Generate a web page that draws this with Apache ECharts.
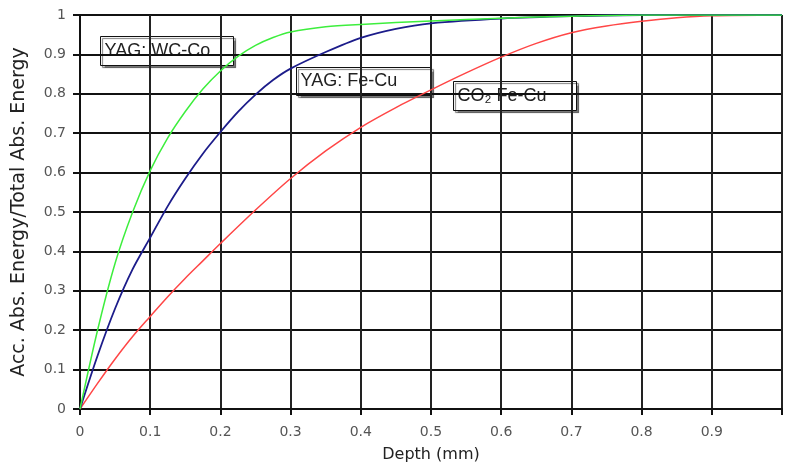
<!DOCTYPE html>
<html>
<head>
<meta charset="utf-8">
<script src="https://cdn.jsdelivr.net/npm/echarts@6/dist/echarts.min.js"></script>
<style>html,body{margin:0;padding:0;background:#fff}#c{width:785px;height:468px}</style>
</head>
<body>
<div id="c"></div>
<script>
// Depth (mm) / accumulated absorbed energy fraction
var yagWcCoDepth  = [0, 0.025, 0.05, 0.075, 0.1, 0.125, 0.15, 0.175, 0.2, 0.225, 0.25, 0.275, 0.3, 0.35, 0.4, 0.5, 0.6, 0.7, 0.8, 0.9, 1.0];
var yagWcCoValue  = [0, 0.2, 0.37, 0.5, 0.605, 0.688, 0.755, 0.812, 0.858, 0.895, 0.923, 0.943, 0.957, 0.97, 0.976, 0.985, 0.992, 0.997, 1.0, 1.0, 1.0];
var yagFeCuDepth  = [0, 0.025, 0.05, 0.075, 0.1, 0.125, 0.15, 0.175, 0.2, 0.225, 0.25, 0.275, 0.3, 0.35, 0.4, 0.45, 0.5, 0.6, 0.7, 0.8, 0.9, 1.0];
var yagFeCuValue  = [0, 0.135, 0.255, 0.355, 0.435, 0.515, 0.585, 0.648, 0.703, 0.754, 0.798, 0.835, 0.864, 0.906, 0.942, 0.965, 0.979, 0.991, 0.997, 1.0, 1.0, 1.0];
var co2FeCuDepth  = [0, 0.025, 0.05, 0.075, 0.1, 0.125, 0.15, 0.175, 0.2, 0.25, 0.3, 0.35, 0.4, 0.45, 0.5, 0.55, 0.6, 0.65, 0.7, 0.75, 0.8, 0.85, 0.9, 1.0];
var co2FeCuValue  = [0, 0.065, 0.127, 0.184, 0.235, 0.285, 0.332, 0.376, 0.42, 0.505, 0.585, 0.655, 0.715, 0.765, 0.81, 0.853, 0.893, 0.928, 0.955, 0.972, 0.984, 0.993, 0.998, 1.0];
var seriesNames = ['YAG: WC-Co', 'YAG: Fe-Cu', 'CO\u2082 Fe-Cu'];
var xAxisTitle = 'Depth (mm)';
var yAxisTitle = 'Acc. Abs. Energy/Total Abs. Energy';

function pairs(xs, ys) { return xs.map(function (x, i) { return [x, ys[i]]; }); }

var chart = echarts.init(document.getElementById('c'), null, {renderer: 'canvas'});
var boxFont = 'Arial, "Liberation Sans", sans-serif';
var axisFont = '"DejaVu Sans", Arial, sans-serif';

function box(x, y, w, h, text) {
  return {
    type: 'group', left: x, top: y, z: 100,
    children: [
      {type: 'rect', shape: {x: 0, y: 0, width: w, height: h},
       style: {fill: '#fff', stroke: '#111', lineWidth: 1, shadowColor: 'rgba(90,90,90,0.8)', shadowOffsetX: 2, shadowOffsetY: 2, shadowBlur: 1}},
      {type: 'text', x: 4, y: h / 2,
       style: {text: text, fill: '#222', font: '18px ' + boxFont, verticalAlign: 'middle', align: 'left'}}
    ]
  };
}

chart.setOption({
  animation: false,
  backgroundColor: '#fff',
  grid: {left: 80, width: 713, top: 15, bottom: 55, containLabel: false},
  xAxis: {
    type: 'value', min: 0, max: 1, interval: 0.1,
    name: xAxisTitle, nameLocation: 'middle', nameGap: 38,
    nameTextStyle: {color: '#222', fontSize: 16, fontFamily: axisFont},
    axisLine: {show: true, lineStyle: {color: '#111', width: 2}},
    axisTick: {show: true, length: 6, lineStyle: {color: '#111', width: 2}},
    axisLabel: {color: '#555', fontSize: 14, fontFamily: axisFont, margin: 16,
      formatter: function (v) { return v >= 1 ? '' : String(Math.round(v * 10) / 10); }},
    splitLine: {show: true, lineStyle: {color: '#222', width: 2}}
  },
  yAxis: {
    type: 'value', min: 0, max: 1, interval: 0.1,
    name: yAxisTitle, nameLocation: 'middle', nameGap: 51, nameRotate: 90,
    nameTextStyle: {color: '#222', fontSize: 19, fontFamily: axisFont},
    axisLine: {show: true, lineStyle: {color: '#111', width: 2}},
    axisTick: {show: true, length: 7, lineStyle: {color: '#111', width: 2}},
    axisLabel: {color: '#555', fontSize: 14, fontFamily: axisFont, margin: 14,
      formatter: function (v) { return String(Math.round(v * 10) / 10); }},
    splitLine: {show: true, lineStyle: {color: '#111', width: 2}}
  },
  series: [
    {name: seriesNames[0], type: 'line', data: pairs(yagWcCoDepth, yagWcCoValue), smooth: 0.3,
     showSymbol: false, lineStyle: {color: '#3dee3d', width: 1.5}, z: 5},
    {name: seriesNames[1], type: 'line', data: pairs(yagFeCuDepth, yagFeCuValue), smooth: 0.3,
     showSymbol: false, lineStyle: {color: '#1c1c8a', width: 1.8}, z: 4},
    {name: seriesNames[2], type: 'line', data: pairs(co2FeCuDepth, co2FeCuValue), smooth: 0.3,
     showSymbol: false, lineStyle: {color: '#ff4646', width: 1.5}, z: 3}
  ],
  graphic: [
    box(100, 36, 133, 29, seriesNames[0]),
    box(296, 67, 135, 28, seriesNames[1]),
    box(453, 81, 123, 29, seriesNames[2])
  ]
});
</script>
</body>
</html>
